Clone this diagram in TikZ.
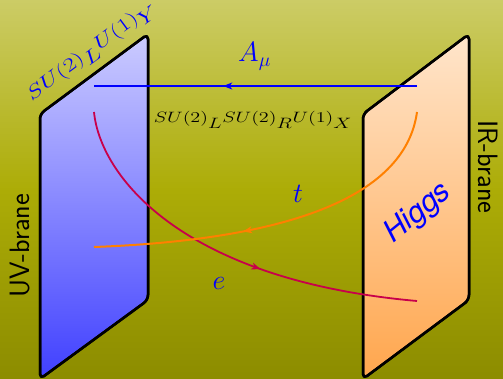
\RequirePackage{fix-cm}
\documentclass[tikz,border=0pt]{standalone}
\usepackage{fontspec}
\newfontfamily\higgsfont{TeX Gyre Heros}
\usetikzlibrary{arrows.meta,decorations.markings}
\definecolor{crim}{RGB}{200,0,75}
\definecolor{orng}{RGB}{255,128,0}
\tikzset{
  brane/.style={draw=black, line width=2.5pt, rounded corners=5pt},
  arrowmid/.style={postaction={decorate}, decoration={markings,
     mark=at position 0.6 with {\arrow{Stealth[length=9pt,width=7pt,inset=2.5pt]}}}},
  bigmath/.style={blue, inner sep=0pt, font=\fontsize{28}{32}\selectfont},
  branelab/.style={font=\sffamily\fontsize{28}{32}\selectfont}
}
\begin{document}
\begin{tikzpicture}[x=1pt,y=-1pt,line join=round]
\useasboundingbox (0,0) rectangle (503,379);
\shade[top color=olive!40, bottom color=olive!90] (0,0) rectangle (503,379);
% branes
\shade[brane, top color=blue!20, bottom color=blue!75] (40,379) -- (40,114) -- (148,34) -- (148,300) -- cycle;
\draw[brane] (40,379) -- (40,114) -- (148,34) -- (148,300) -- cycle;
\shade[brane, top color=orange!20, bottom color=orange!70] (363,379) -- (363,114) -- (469,34) -- (469,300) -- cycle;
\draw[brane] (363,379) -- (363,114) -- (469,34) -- (469,300) -- cycle;
% endpoints
\coordinate (Auv) at (94,86);
\coordinate (Air) at (417,86);
\coordinate (euv) at (94,112);
\coordinate (eir) at (417,301);
\coordinate (tir) at (417,112);
\coordinate (tuv) at (94,247);
% connectors
\draw[blue, line width=2pt, arrowmid] (Air) -- (Auv);
\draw[crim, line width=1.8pt, arrowmid] (euv) .. controls (100,175) and (180,280) .. (eir);
\draw[orng, line width=2pt, arrowmid] (tir) .. controls (405,200) and (280,240) .. (tuv);
% labels
\node[bigmath, anchor=base west] (Alab) at (238,62) {$A_\mu$};
\node[bigmath, anchor=base] (tlab) at (298,203) {$t$};
\node[bigmath, anchor=base] (elab) at (219,290) {$e$};
\node[inner sep=0pt, anchor=base, font=\fontsize{15}{18}\selectfont] (bulk) at (253,123)
  {\scalebox{1.35}[1]{$SU(2)_{\textstyle L}SU(2)_{\textstyle R}U(1)_{\textstyle X}$}};
\node[blue, inner sep=0pt, anchor=base, rotate=36.5, font=\fontsize{19}{21}\selectfont] (uvgrp) at (94,55)
  {\scalebox{1.35}[1]{$SU(2)_{\textstyle L}U(1)_{\textstyle Y}$}};
\node[branelab, rotate=90] (uvlab) at (20,246) {UV-brane};
\node[branelab, rotate=-90] (irlab) at (488,167) {IR-brane};
\node[blue, rotate=39, font=\higgsfont\itshape\fontsize{30}{33}\selectfont] (higgs) at (418,213) {Higgs};
\end{tikzpicture}
\end{document}
